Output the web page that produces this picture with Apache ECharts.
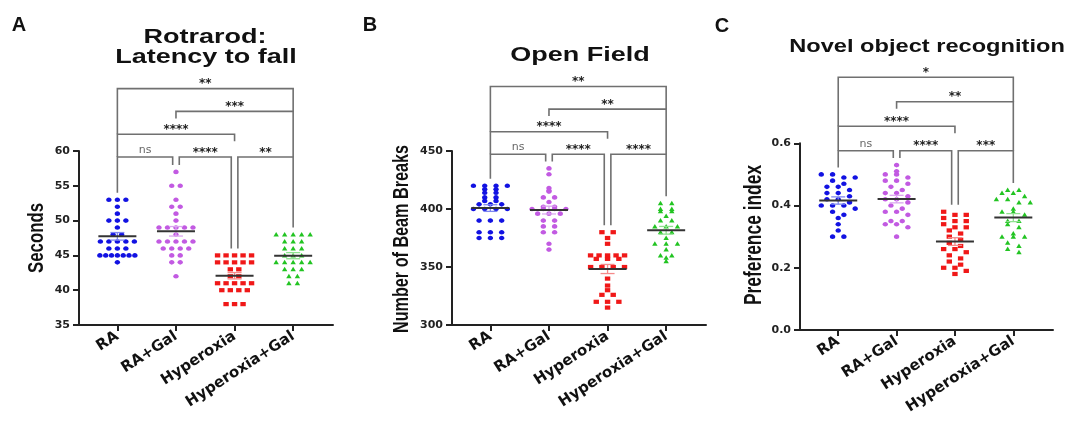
<!DOCTYPE html>
<html>
<head>
<meta charset="utf-8">
<script src="https://cdn.jsdelivr.net/npm/echarts@6/dist/echarts.min.js"></script>
<style>
  html, body { margin: 0; padding: 0; background: #fff; }
  #main { width: 1067px; height: 423px; }
</style>
</head>
<body>
<div id="main"></div>
<script>
// groups on every x axis
var groups = ['RA', 'RA+Gal', 'Hyperoxia', 'Hyperoxia+Gal'];

// A - rotarod, latency to fall (seconds)
var rotRA = [53, 53, 53, 52, 51, 50, 50, 50, 49, 48, 48, 47, 47, 47, 47, 47, 46, 46, 46, 45, 45, 45, 45, 45, 45, 45, 44];
var rotRAGal = [57, 55, 55, 53, 52, 52, 51, 50, 49, 49, 49, 49, 49, 48, 47, 47, 47, 47, 47, 46, 46, 46, 46, 45, 45, 44, 44, 42];
var rotHyp = [45, 45, 45, 45, 45, 44, 44, 44, 44, 44, 43, 43, 42, 42, 41, 41, 41, 41, 41, 40, 40, 40, 40, 38, 38, 38];
var rotHypGal = [48, 48, 48, 48, 48, 47, 47, 47, 46, 46, 46, 45, 45, 45, 44, 44, 44, 44, 44, 43, 43, 43, 42, 42, 41, 41];
var rotSig = [[0, 1, 'ns'], [1, 2, '****'], [2, 3, '**'], [0, 2, '****'], [1, 3, '***'], [0, 3, '**']];

// B - open field, number of beam breaks
var ofRA = [420, 420, 420, 420, 417, 417, 414, 414, 410, 410, 407, 407, 404, 404, 404, 400, 400, 400, 400, 390, 390, 390, 380, 380, 380, 375, 375, 375];
var ofRAGal = [435, 430, 418, 416, 415, 410, 410, 406, 402, 402, 400, 400, 400, 400, 396, 396, 396, 390, 390, 385, 385, 380, 380, 370, 365];
var ofHyp = [380, 380, 375, 370, 360, 360, 360, 360, 360, 357, 357, 357, 350, 350, 350, 350, 340, 334, 330, 326, 326, 320, 320, 320, 315];
var ofHypGal = [405, 405, 400, 400, 398, 398, 394, 390, 390, 385, 385, 385, 380, 380, 375, 370, 370, 370, 365, 360, 360, 358, 355];
var ofSig = [[0, 1, 'ns'], [1, 2, '****'], [2, 3, '****'], [0, 2, '****'], [1, 3, '**'], [0, 3, '**']];

// C - novel object recognition, preference index
var norRA = [0.50, 0.50, 0.49, 0.49, 0.48, 0.47, 0.46, 0.46, 0.45, 0.44, 0.44, 0.43, 0.42, 0.42, 0.41, 0.40, 0.40, 0.40, 0.39, 0.38, 0.37, 0.36, 0.34, 0.32, 0.30, 0.30];
var norRAGal = [0.53, 0.51, 0.50, 0.50, 0.49, 0.48, 0.48, 0.47, 0.46, 0.45, 0.44, 0.44, 0.43, 0.42, 0.42, 0.41, 0.40, 0.39, 0.38, 0.38, 0.37, 0.35, 0.35, 0.34, 0.34, 0.33, 0.30];
var norHyp = [0.38, 0.37, 0.37, 0.36, 0.35, 0.35, 0.34, 0.33, 0.33, 0.32, 0.31, 0.30, 0.29, 0.28, 0.27, 0.26, 0.26, 0.25, 0.24, 0.23, 0.22, 0.21, 0.20, 0.20, 0.19, 0.18];
var norHypGal = [0.45, 0.45, 0.44, 0.44, 0.43, 0.42, 0.42, 0.41, 0.41, 0.39, 0.38, 0.38, 0.37, 0.35, 0.35, 0.34, 0.33, 0.31, 0.30, 0.30, 0.30, 0.28, 0.27, 0.26, 0.25];
var norSig = [[0, 1, 'ns'], [1, 2, '****'], [2, 3, '***'], [0, 2, '****'], [1, 3, '**'], [0, 3, '*']];

var dotColors = ['#1212e2', '#c25ae2', '#f01818', '#22c422'];
var semColors = ['#7d86f0', '#dba6f0', '#f58a8a', '#8fe08f'];

// layout of the three panels
var panels = [
  { sets: [rotRA, rotRAGal, rotHyp, rotHypGal], sig: rotSig,
    grid: { left: 79, top: 151, width: 254, height: 174 },
    y: { min: 35, max: 60, interval: 5 }, fmt: null,
    bin: 1, step: 8.5, maxW: 35, brTop: 157, brStep: 22.8 },
  { sets: [ofRA, ofRAGal, ofHyp, ofHypGal], sig: ofSig,
    grid: { left: 452, top: 151, width: 254, height: 174 },
    y: { min: 300, max: 450, interval: 50 }, fmt: null,
    bin: 1, step: 11.3, maxW: 34, brTop: 154.3, brStep: 22.6 },
  { sets: [norRA, norRAGal, norHyp, norHypGal], sig: norSig,
    grid: { left: 800, top: 143.3, width: 253, height: 186.7 },
    y: { min: 0, max: 0.6, interval: 0.2 }, fmt: function (v) { return v.toFixed(1); },
    bin: 0.02, step: 11.3, maxW: 35, brTop: 150.7, brStep: 24.5 }
];

// prism-like scatter: values in the same bin are lined up and centred
function swarm(vals, bin, step, maxW) {
  var rows = {}, off = [];
  vals.forEach(function (v, i) {
    var k = Math.floor(v / bin + 0.55);
    (rows[k] = rows[k] || []).push(i);
  });
  Object.keys(rows).forEach(function (k) {
    var idx = rows[k].slice().sort(function (a, b) { return vals[b] - vals[a]; });
    var n = idx.length;
    var s = n > 1 ? Math.min(step, maxW / (n - 1)) : 0;
    idx.forEach(function (id, j) { off[id] = (j - (n - 1) / 2) * s; });
  });
  return off;
}

function meanSem(a) {
  var n = a.length;
  var m = a.reduce(function (s, v) { return s + v; }, 0) / n;
  var sd = Math.sqrt(a.reduce(function (s, v) { return s + (v - m) * (v - m); }, 0) / (n - 1));
  return [m, sd / Math.sqrt(n)];
}

function dotItem(params, api) {
  var g = api.value(0);
  var c = api.coord([g, api.value(1)]);
  var x = c[0] + api.value(2), y = c[1];
  var col = dotColors[g];
  if (g < 2) return { type: 'ellipse', shape: { cx: x, cy: y, rx: 2.7, ry: 2.3 }, style: { fill: col } };
  if (g === 2) return { type: 'rect', shape: { x: x - 2.7, y: y - 2.1, width: 5.4, height: 4.2 }, style: { fill: col } };
  return { type: 'polygon', shape: { points: [[x - 2.7, y + 2], [x + 2.7, y + 2], [x, y - 2.5]] }, style: { fill: col } };
}

function meanItem(params, api) {
  var g = api.value(0), m = api.value(1), s = api.value(2);
  var c = api.coord([g, m]);
  var hi = api.coord([g, m + s])[1], lo = api.coord([g, m - s])[1];
  var x = c[0];
  var st = { stroke: semColors[g], lineWidth: 1.3 };
  return { type: 'group', children: [
    { type: 'line', shape: { x1: x, y1: hi, x2: x, y2: lo }, style: st },
    { type: 'line', shape: { x1: x - 7, y1: hi, x2: x + 7, y2: hi }, style: st },
    { type: 'line', shape: { x1: x - 7, y1: lo, x2: x + 7, y2: lo }, style: st },
    { type: 'line', shape: { x1: x - 19, y1: c[1], x2: x + 19, y2: c[1] }, style: { stroke: '#333', lineWidth: 2 } }
  ] };
}

// first three comparisons are adjacent pairs, the rest stack above
function level(i) { return i < 3 ? 0 : i - 2; }

function bracketRender(p) {
  return function (params, api) {
    var i = params.dataIndex, s = p.sig[i];
    var lv = level(i);
    var y = p.brTop - lv * p.brStep;
    function shared(g) {
      var n = 0;
      p.sig.forEach(function (t, j) { if (level(j) === 0 && (t[0] === g || t[1] === g)) n++; });
      return n > 1;
    }
    function leg(g, side) {
      var x = api.coord([g, p.y.min])[0];
      var bottom;
      if (lv === 0) {
        if (shared(g)) x += side * 3.3;
        var top = Math.max.apply(null, p.sets[g]);
        bottom = api.coord([g, top])[1] - 7;
      } else {
        var best = -1;
        p.sig.forEach(function (t, j) {
          var l = level(j);
          if (l < lv && (t[0] === g || t[1] === g) && (l > 0 || !shared(g)) && l > best) best = l;
        });
        bottom = best >= 0 ? p.brTop - best * p.brStep : y + 7;
      }
      return [x, bottom];
    }
    var a = leg(s[0], 1), b = leg(s[1], -1);
    var ns = s[2] === 'ns';
    return { type: 'group', children: [
      { type: 'polyline', shape: { points: [[a[0], a[1]], [a[0], y], [b[0], y], [b[0], b[1]]] },
        style: { stroke: '#707070', lineWidth: 1.6, fill: null } },
      { type: 'text', x: (a[0] + b[0]) / 2, y: y - (ns ? 7 : 4.5),
        style: { text: s[2], align: 'center', verticalAlign: 'middle',
          fontFamily: 'DejaVu Sans', fontSize: ns ? 11 : 12, fontWeight: ns ? 'normal' : 'bold',
          fill: ns ? '#666' : '#222' } }
    ] };
  };
}

var grids = [], xAxes = [], yAxes = [], series = [];
panels.forEach(function (p, k) {
  grids.push(Object.assign({ outerBoundsMode: 'none' }, p.grid));
  xAxes.push({
    gridIndex: k, type: 'value', min: -0.655, max: 3.68,
    splitLine: { show: false },
    axisLine: { show: true, onZero: false, lineStyle: { color: '#222', width: 2 } },
    axisTick: { show: true, customValues: [0, 1, 2, 3], length: 6, lineStyle: { color: '#222', width: 2 } },
    axisLabel: { customValues: [0, 1, 2, 3], formatter: function (v) { return groups[v]; },
      rotate: 33, margin: 10, fontFamily: 'DejaVu Sans', fontWeight: 'bold', fontSize: 15, color: '#111' }
  });
  yAxes.push({
    gridIndex: k, type: 'value', min: p.y.min, max: p.y.max, interval: p.y.interval,
    splitLine: { show: false },
    axisLine: { show: true, onZero: false, lineStyle: { color: '#222', width: 2 } },
    axisTick: { show: true, length: 6, lineStyle: { color: '#222', width: 2 } },
    axisLabel: { margin: 9, fontFamily: 'DejaVu Sans', fontWeight: 'bold', fontSize: 11, color: '#222',
      formatter: p.fmt || undefined }
  });
  var dots = [], means = [];
  p.sets.forEach(function (vals, g) {
    var off = swarm(vals, p.bin, p.step, p.maxW);
    vals.forEach(function (v, i) { dots.push([g, v, off[i]]); });
    var ms = meanSem(vals);
    means.push([g, ms[0], ms[1]]);
  });
  series.push({ type: 'custom', xAxisIndex: k, yAxisIndex: k, clip: false, z: 2,
    renderItem: dotItem, data: dots, encode: { x: 0, y: 1 } });
  series.push({ type: 'custom', xAxisIndex: k, yAxisIndex: k, clip: false, z: 3,
    renderItem: meanItem, data: means, encode: { x: 0, y: 1 } });
  series.push({ type: 'custom', xAxisIndex: k, yAxisIndex: k, clip: false, z: 3,
    renderItem: bracketRender(p), data: p.sig.map(function (s) { return [s[0], p.y.min]; }), encode: { x: 0, y: 1 } });
});

function label(text, x, y, size, bold, sx) {
  return { type: 'text', x: x, y: y, scaleX: sx || 1,
    style: { text: text, align: 'center', verticalAlign: 'middle', fontFamily: 'Liberation Sans',
      fontSize: size, fontWeight: bold ? 'bold' : 'normal', fill: '#111' } };
}
function yName(text, x, y, size) {
  return { type: 'text', x: x, y: y, rotation: Math.PI / 2, scaleY: 1.35,
    style: { text: text, align: 'center', verticalAlign: 'middle', fontFamily: 'Liberation Sans',
      fontSize: size, fontWeight: 'bold', fill: '#111' } };
}

var chart = echarts.init(document.getElementById('main'));
chart.setOption({
  animation: false,
  backgroundColor: '#fff',
  grid: grids,
  xAxis: xAxes,
  yAxis: yAxes,
  graphic: [
    label('A', 19, 25, 20, true),
    label('B', 370, 25, 20, true),
    label('C', 722, 26, 20, true),
    label('Rotrarod:', 205, 37, 20, true, 1.35),
    label('Latency to fall', 206, 57, 20, true, 1.35),
    label('Open Field', 580, 55, 20, true, 1.35),
    label('Novel object recognition', 927, 47, 17.5, true, 1.35),
    yName('Seconds', 37, 238, 16.8),
    yName('Number of Beam Breaks', 402, 239, 16.2),
    yName('Preference index', 755, 235, 17.4)
  ],
  series: series
});
</script>
</body>
</html>
